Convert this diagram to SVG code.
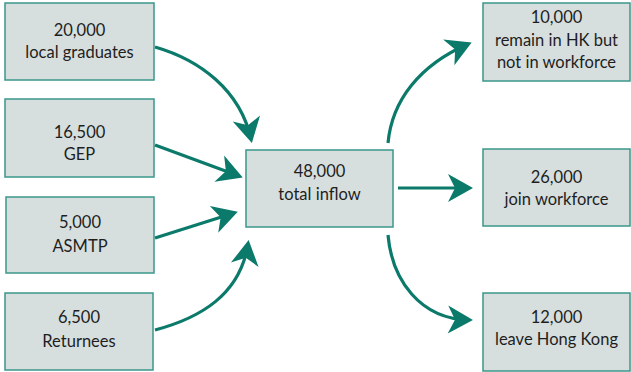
<svg xmlns="http://www.w3.org/2000/svg" width="631" height="372" viewBox="0 0 631 372">
<style>
.box{fill:#d6dfde;stroke:#3b978b;stroke-width:1.5}
.t{font-family:Lato,"Open Sans","DejaVu Sans",sans-serif;font-size:16.5px;fill:#1e1e1e;text-anchor:middle}
.c{fill:none;stroke:#0b7a6b;stroke-width:3.2}
</style>
<defs>
<marker id="ah" markerUnits="userSpaceOnUse" markerWidth="40" markerHeight="40" viewBox="-30 -20 40 40" refX="0" refY="0" orient="auto">
<path d="M4,0 L-21,-14 L-14,0 L-21,14 Z" fill="#0b7a6b"/>
</marker>
</defs>
<rect width="631" height="372" fill="#fff"/>
<g id="n-local"><rect class="box" x="5" y="3" width="149" height="77"/><text class="t" x="79.5" y="36">20,000</text><text class="t" x="79.5" y="58">local graduates</text></g>
<g id="n-gep"><rect class="box" x="5" y="99" width="149" height="78"/><text class="t" x="79.5" y="138">16,500</text><text class="t" x="79.5" y="160">GEP</text></g>
<g id="n-asmtp"><rect class="box" x="6" y="197" width="148" height="76"/><text class="t" x="80" y="228">5,000</text><text class="t" x="80" y="252">ASMTP</text></g>
<g id="n-ret"><rect class="box" x="5" y="293" width="148" height="77"/><text class="t" x="79" y="323">6,500</text><text class="t" x="79" y="347">Returnees</text></g>
<g id="n-total"><rect class="box" x="246" y="150" width="147" height="77"/><text class="t" x="319.5" y="177">48,000</text><text class="t" x="319.5" y="200">total inflow</text></g>
<g id="n-remain"><rect class="box" x="483" y="3" width="147" height="78"/><text class="t" x="556.5" y="23">10,000</text><text class="t" x="556.5" y="46">remain in HK but</text><text class="t" x="556.5" y="68">not in workforce</text></g>
<g id="n-join"><rect class="box" x="483" y="149" width="147" height="77"/><text class="t" x="556.5" y="183">26,000</text><text class="t" x="556.5" y="205">join workforce</text></g>
<g id="n-leave"><rect class="box" x="483" y="293" width="147" height="78"/><text class="t" x="556.5" y="323">12,000</text><text class="t" x="556.5" y="345">leave Hong Kong</text></g>
<g id="connectors">
<path class="c" marker-end="url(#ah)" d="M155,47 C200,60 240,90 251,139"/>
<path class="c" marker-end="url(#ah)" d="M155,145 L239,176"/>
<path class="c" marker-end="url(#ah)" d="M155,238 L234,213"/>
<path class="c" marker-end="url(#ah)" d="M155,330 C200,318 240,295 248,244"/>
<path class="c" marker-end="url(#ah)" d="M388,143 C392,100 420,65 468,44"/>
<path class="c" marker-end="url(#ah)" d="M398,188 L469,188"/>
<path class="c" marker-end="url(#ah)" d="M388,235 C392,280 420,319 469,320"/>
</g>
</svg>
